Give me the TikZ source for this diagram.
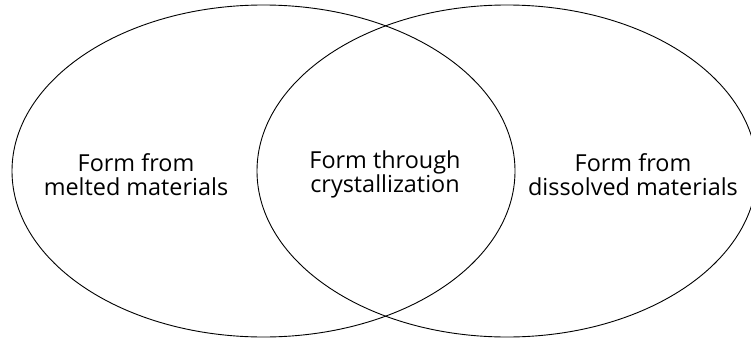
\documentclass[tikz,border=0pt]{standalone}
\usepackage{fontspec}
\setmainfont{Open Sans}
\usetikzlibrary{shapes.geometric}
\begin{document}
\begin{tikzpicture}[x=1bp,y=1bp,
  venn/.style={draw=black,line width=0.9bp},
  lbl/.style={align=center,inner sep=0pt,font=\fontsize{23.5}{24}\selectfont}]
\useasboundingbox (0,0) rectangle (751,341);
\clip (0,0) rectangle (751,341);
\node[venn,ellipse,minimum width=503bp,minimum height=332bp,inner sep=0pt] (L) at (263.5,170) {};
\node[venn,ellipse,minimum width=500bp,minimum height=332bp,inner sep=0pt] (R) at (507,170) {};
\node[lbl] (tl) at (136,166.5) {Form from\\melted materials};
\node[lbl] (tc) at (385,166.5) {Form through\\crystallization};
\node[lbl] (tr) at (633,166.5) {Form from\\dissolved materials};
\end{tikzpicture}
\end{document}
